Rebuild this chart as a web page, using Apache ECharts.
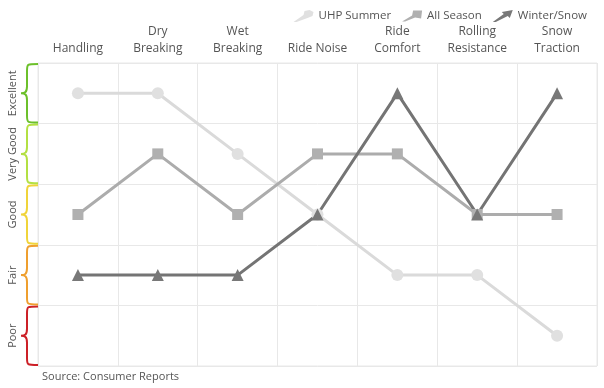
<!DOCTYPE html>
<html><head><meta charset="utf-8">
<script src="https://cdn.jsdelivr.net/npm/echarts@6/dist/echarts.min.js"></script>
<style>html,body{margin:0;padding:0;background:#fff}#c{width:604px;height:388px}</style>
</head><body><div id="c"></div>
<script>
const categories = ['Handling', 'Dry\nBreaking', 'Wet\nBreaking', 'Ride Noise', 'Ride\nComfort', 'Rolling\nResistance', 'Snow\nTraction'];
const ratings = ['Poor', 'Fair', 'Good', 'Very Good', 'Excellent'];
const ratingColors = ['#cc2027', '#ef9f2e', '#f0d43a', '#b3e043', '#6cc02b'];
const uhpSummer = ['Excellent', 'Excellent', 'Very Good', 'Good', 'Fair', 'Fair', 'Poor'];
const allSeason = ['Good', 'Very Good', 'Good', 'Very Good', 'Very Good', 'Good', 'Good'];
const winterSnow = ['Fair', 'Fair', 'Fair', 'Good', 'Excellent', 'Good', 'Excellent'];
const sourceText = 'Source: Consumer Reports';

const font = '"Open Sans", "Noto Sans", sans-serif';
const chart = echarts.init(document.getElementById('c'), null, {renderer: 'canvas'});

function braceItem(params, api) {
  const yName = api.value(1);
  const c = api.coord([0, yName]);
  const bandW = api.size([1, 0])[0];
  const bandH = api.size([0, 1])[1];
  const xr = c[0] - bandW / 2;
  const xm = xr - 11;
  const xp = xr - 17;
  const yc = c[1];
  const y0 = yc - bandH / 2 + 1;
  const y1 = yc + bandH / 2 - 1;
  const r = 7;
  const d = 'M' + xr + ',' + y0 +
    ' C' + xm + ',' + y0 + ' ' + xm + ',' + y0 + ' ' + xm + ',' + (y0 + r) +
    ' L' + xm + ',' + (yc - r) +
    ' C' + xm + ',' + (yc - 1) + ' ' + (xm - 2) + ',' + yc + ' ' + xp + ',' + yc +
    ' C' + (xm - 2) + ',' + yc + ' ' + xm + ',' + (yc + 1) + ' ' + xm + ',' + (yc + r) +
    ' L' + xm + ',' + (y1 - r) +
    ' C' + xm + ',' + y1 + ' ' + xm + ',' + y1 + ' ' + xr + ',' + y1;
  return {
    type: 'path',
    shape: {pathData: d, x: xp, y: y0, width: xr - xp, height: y1 - y0},
    style: {fill: null, stroke: ratingColors[params.dataIndex], lineWidth: 2}
  };
}

chart.setOption({
  animation: false,
  textStyle: {fontFamily: font},
  title: {
    text: sourceText, left: 37, bottom: 1,
    textStyle: {fontSize: 11, fontWeight: 'normal', color: '#555', fontFamily: font}
  },
  legend: {
    top: 5, right: 12, itemWidth: 20, itemHeight: 12, itemGap: 11,
    textStyle: {fontSize: 11.5, color: '#555', fontFamily: font},
    data: [
      {name: 'UHP Summer', icon: 'path://M0,12 L10,5 L11,1 L16,0 L20,2 L19,6 L14,8 L3,12 Z'},
      {name: 'All Season', icon: 'path://M0,12 L10,6 L11,1 L20,1 L19,9 L13,8 L3,12 Z'},
      {name: 'Winter/Snow', icon: 'path://M0,12 L11,4 L9,2 L20,0 L17,8 L15,6 L3,12 Z'}
    ]
  },
  grid: {left: 38, right: 7, top: 63, bottom: 22, show: true, borderColor: '#e8e8e8', borderWidth: 1},
  xAxis: {
    type: 'category', position: 'top', data: categories, boundaryGap: true,
    axisLine: {show: false}, axisTick: {show: false},
    axisLabel: {color: '#555', fontSize: 12, lineHeight: 17, margin: 6, interval: 0, fontFamily: font},
    splitLine: {show: true, interval: 0, lineStyle: {color: '#e8e8e8', width: 1}}
  },
  yAxis: {
    type: 'category', data: ratings, boundaryGap: true,
    axisLine: {show: false}, axisTick: {show: false},
    axisLabel: {color: '#555', fontSize: 11, rotate: 90, margin: 20, interval: 0, fontFamily: font},
    splitLine: {show: true, interval: 0, lineStyle: {color: '#e8e8e8', width: 1}}
  },
  series: [
    {
      type: 'custom', name: 'brace', coordinateSystem: 'cartesian2d', silent: true,
      clip: false, renderItem: braceItem,
      data: ratings.map(r => [categories[0], r]),
      legendHoverLink: false
    },
    {
      name: 'UHP Summer', type: 'line', data: uhpSummer,
      symbol: 'circle', symbolSize: 12,
      lineStyle: {color: '#dadada', width: 3},
      itemStyle: {color: '#e0e0e0'}
    },
    {
      name: 'All Season', type: 'line', data: allSeason,
      symbol: 'rect', symbolSize: 11,
      lineStyle: {color: '#acacac', width: 3},
      itemStyle: {color: '#b0b0b0'}
    },
    {
      name: 'Winter/Snow', type: 'line', data: winterSnow,
      symbol: 'triangle', symbolSize: 12,
      lineStyle: {color: '#747474', width: 3},
      itemStyle: {color: '#787878'}
    }
  ]
});
</script>
</body></html>
